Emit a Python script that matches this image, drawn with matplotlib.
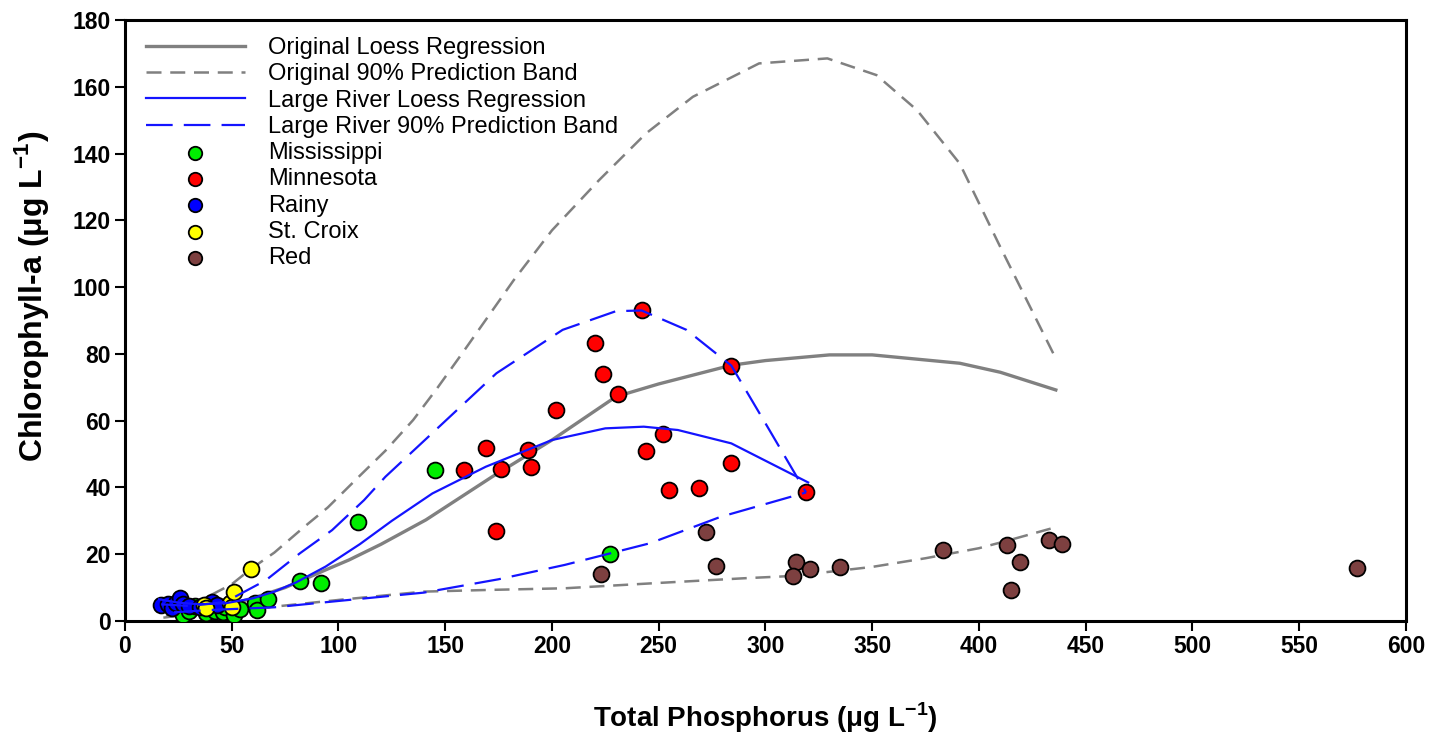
import matplotlib
matplotlib.use("Agg")
import matplotlib.pyplot as plt
import numpy as np

plt.rcParams['font.family'] = ['Liberation Sans', 'DejaVu Sans']
plt.rcParams['mathtext.fontset'] = 'custom'
plt.rcParams['mathtext.rm'] = 'Liberation Sans'
plt.rcParams['mathtext.bf'] = 'Liberation Sans:bold'

# --- Loess fits (Total Phosphorus vs Chlorophyll-a) ---
orig_loess_x = [20, 30, 40, 50, 62, 75, 94, 105, 120, 141, 172, 200, 230, 250, 284, 300, 330, 350, 391, 410, 436]
orig_loess_y = [1.5, 2.5, 3.5, 5.0, 7.3, 10.0, 15.3, 18.3, 23.0, 30.3, 43.2, 54.2, 67.2, 71.0, 76.6, 78.0, 79.7, 79.7, 77.2, 74.5, 69.2]

orig_upper_x = [20, 35, 50, 59, 70, 84, 95, 110, 122, 135, 146, 158, 182, 200, 222, 244, 266, 297, 329, 352, 371, 391, 410, 436]
orig_upper_y = [2.0, 6.0, 11.0, 15.6, 20.5, 28.2, 34.0, 43.5, 51.0, 60.2, 69.5, 80.2, 102.0, 117.0, 132.0, 146.0, 157.0, 167.0, 168.5, 163.5, 153.0, 137.0, 112.0, 78.6]

orig_lower_x = [18, 30, 50, 70, 100, 140, 170, 206, 250, 290, 313, 350, 375, 400, 413, 436]
orig_lower_y = [1.0, 2.0, 3.3, 4.3, 6.3, 8.8, 9.3, 9.8, 11.4, 12.8, 13.5, 16.2, 18.8, 21.8, 24.0, 28.1]

river_loess_x = [16, 25, 35, 47, 60, 70, 80, 94, 110, 125, 144, 169, 200, 225, 243, 259, 284, 320]
river_loess_y = [6.5, 5.5, 5.0, 5.3, 6.8, 8.8, 11.5, 16.3, 23.0, 30.0, 38.2, 46.2, 54.2, 57.7, 58.2, 57.2, 53.2, 41.5]

river_upper_x = [17, 30, 47, 66, 82, 97, 112, 122, 143, 174, 205, 230, 242, 263, 284, 300, 319]
river_upper_y = [5.0, 4.5, 5.7, 12.2, 20.3, 27.2, 36.2, 43.2, 55.7, 74.2, 87.2, 92.8, 93.0, 87.2, 76.5, 59.2, 38.5]

river_lower_x = [23, 40, 70, 100, 140, 175, 206, 246, 279, 319]
river_lower_y = [2.6, 3.3, 4.1, 6.0, 8.5, 12.5, 16.8, 23.3, 31.2, 38.5]

# --- Observations by river ---
miss_tp = [27, 30, 33, 38, 42, 46, 47, 51, 54, 61, 62, 67, 82, 92, 109, 145, 227]
miss_chl = [1.8, 3.0, 4.5, 2.5, 3.0, 2.8, 4.3, 1.8, 3.5, 5.5, 3.3, 6.5, 12.1, 11.3, 29.6, 45.2, 20.1]

minn_tp = [242, 220, 224, 231, 202, 169, 189, 159, 176, 190, 174, 284, 252, 244, 284, 255, 269, 319]
minn_chl = [93.1, 83.4, 74.1, 67.9, 63.1, 51.9, 51.2, 45.1, 45.4, 46.1, 27.1, 76.5, 55.9, 51.0, 47.3, 39.3, 39.9, 38.5]

rainy_tp = [17, 20, 22, 24, 26, 27, 30, 35, 38, 41, 43]
rainy_chl = [4.8, 5.2, 3.8, 5.5, 6.8, 5.0, 4.5, 4.3, 4.8, 5.8, 4.8]

croix_tp = [37, 38, 49, 50, 51, 59]
croix_chl = [4.8, 3.8, 5.3, 4.3, 8.8, 15.6]

red_tp = [223, 272, 277, 314.5, 313, 321, 335, 383, 413, 415, 419, 433, 439, 577]
red_chl = [14.2, 26.8, 16.6, 17.6, 13.6, 15.6, 16.2, 21.2, 22.9, 9.4, 17.8, 24.3, 23.1, 15.8]

x_ticks = list(range(0, 601, 50))
y_ticks = list(range(0, 181, 20))

fig = plt.figure(figsize=(14.41, 7.33), dpi=100)
ax = fig.add_axes([0.0867, 0.1528, 0.8890, 0.8199])

gray = '#808080'
blue = '#1414ff'

l1, = ax.plot(orig_loess_x, orig_loess_y, color=gray, lw=2.4, zorder=2,
              label='Original Loess Regression')
l2, = ax.plot(orig_upper_x, orig_upper_y, color=gray, lw=1.8, dashes=(6, 3.5), zorder=2,
              label='Original 90% Prediction Band')
ax.plot(orig_lower_x, orig_lower_y, color=gray, lw=1.8, dashes=(6, 3.5), zorder=2)

mk = dict(s=130, edgecolors='black', linewidths=1.3, zorder=3)
s1 = ax.scatter(miss_tp, miss_chl, c='#00ee00', label='Mississippi', **mk)
s2 = ax.scatter(minn_tp, minn_chl, c='#ff0000', label='Minnesota', **mk)
s3 = ax.scatter(rainy_tp, rainy_chl, c='#0000ff', label='Rainy', **mk)
s4 = ax.scatter(croix_tp, croix_chl, c='#ffff00', label='St. Croix', **mk)
s5 = ax.scatter(red_tp, red_chl, c='#7d4040', label='Red', **mk)

l3, = ax.plot(river_loess_x, river_loess_y, color=blue, lw=1.6, zorder=4,
              label='Large River Loess Regression')
l4, = ax.plot(river_upper_x, river_upper_y, color=blue, lw=1.6, dashes=(12, 5), zorder=4,
              label='Large River 90% Prediction Band')
ax.plot(river_lower_x, river_lower_y, color=blue, lw=1.6, dashes=(12, 5), zorder=4)

ax.set_xlim(0, 600)
ax.set_ylim(0, 180)
ax.set_xticks(x_ticks)
ax.set_yticks(y_ticks)
ax.tick_params(direction='out', length=7, width=1.5, labelsize=16.5, pad=3,
               top=False, right=False)
for lab in ax.get_xticklabels() + ax.get_yticklabels():
    lab.set_fontweight('bold')
for sp in ax.spines.values():
    sp.set_linewidth(2.2)

ax.set_xlabel(r'Total Phosphorus ($\mathbf{\mu}$g L$^{\mathbf{-1}}$)', fontsize=20, fontweight='bold')
ax.set_ylabel(r'Chlorophyll-a ($\mathbf{\mu}$g L$^{\mathbf{-1}}$)', fontsize=23, fontweight='bold')
ax.xaxis.set_label_coords(0.5, -0.132)
ax.yaxis.set_label_coords(-0.058, 0.54)

ax.legend(handles=[l1, l2, l3, l4, s1, s2, s3, s4, s5], loc='upper left',
          bbox_to_anchor=(0.005, 0.995), frameon=False, fontsize=17,
          handlelength=4.2, handletextpad=1.0, labelspacing=0.18,
          borderaxespad=0.2, scatterpoints=1, markerscale=0.85)

fig.savefig('out.png', dpi=100)
